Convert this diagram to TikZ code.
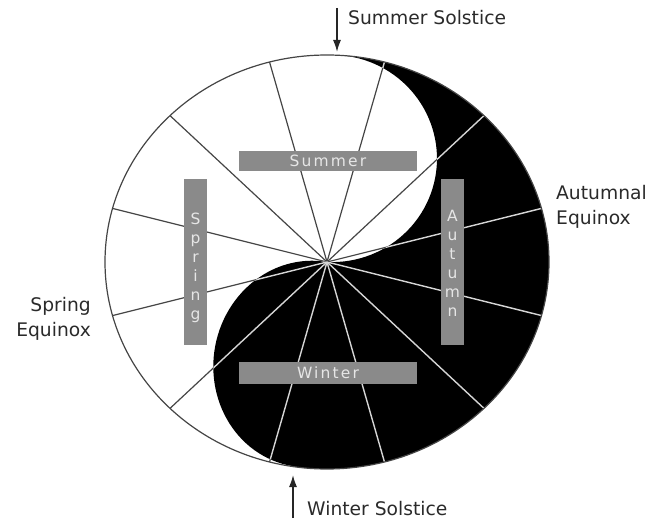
\documentclass[tikz,border=0pt]{standalone}
\usepackage{fontspec}
\setmainfont{DejaVu Sans}
\newfontfamily\barfont[LetterSpace=14]{DejaVu Sans}
\usetikzlibrary{arrows.meta}
\definecolor{bargray}{HTML}{8A8A8A}
\definecolor{bartext}{HTML}{E6E6E6}
\definecolor{labeltext}{HTML}{2A2A2A}
\definecolor{darkline}{HTML}{454545}
\definecolor{lightline}{HTML}{D5D5D5}
\tikzset{
  darkray/.style={draw=darkline, line width=1.2pt},
  lightray/.style={draw=lightline, line width=1.4pt},
  bar/.style={fill=bargray, draw=none, inner sep=0pt, text=bartext,
    font=\barfont\fontsize{15.5}{19}\selectfont},
  lbl/.style={inner sep=0pt, text=labeltext, font=\fontsize{18.7}{24.5}\selectfont},
  sarrow/.style={draw=black!85, line width=1.5pt, -{Latex[length=12pt,width=8pt]}}
}
\begin{document}
\begin{tikzpicture}[x=1pt,y=1pt]
\useasboundingbox (0,0) rectangle (659,-521);
\coordinate (O) at (327,-262);
\path (O) ++(87.4:222pt and 207pt) coordinate (T);
\foreach \a [count=\i] in {15,45,...,345}
  \path (O) ++(\a:222pt and 207pt) coordinate (e\i);
% dark rays on the white part
\foreach \i in {1,...,12} \draw[darkray] (O) -- (e\i);
% black half with light rays
\begin{scope}
  \clip (T) arc[start angle=87.4, end angle=-99.1, x radius=222pt, y radius=207pt]
    -- plot[domain=-90:90, samples=60, variable=\t]
      ({309.5 + (-96*cos(\t))*cos(-9.74) - (103.5*sin(\t))*sin(-9.74)},
       {-364 + (-96*cos(\t))*sin(-9.74) + (103.5*sin(\t))*cos(-9.74)})
    -- plot[domain=-90:90, samples=60, variable=\t]
      ({332 + (105*cos(\t))*cos(-2.77) - (103.6*sin(\t))*sin(-2.77)},
       {-158.5 + (105*cos(\t))*sin(-2.77) + (103.6*sin(\t))*cos(-2.77)})
    -- cycle;
  \fill[black] (0,0) rectangle (659,-521);
  \foreach \i in {1,...,12} \draw[lightray] (O) -- (e\i);
\end{scope}
\draw[draw=darkline, line width=1.2pt] (O) ellipse[x radius=222pt, y radius=207pt];
% season bars
\node[bar, minimum width=178pt, minimum height=20pt] (summer) at (328,-161) {Summer};
\node[bar, minimum width=178pt, minimum height=22pt] (winter) at (328,-373) {Winter};
\node[bar, minimum width=23pt, minimum height=166pt] (spring) at (195.5,-262) {};
\node[bar, align=center, fill=none] (springtxt) at (195.5,-268) {S\\p\\r\\i\\n\\g};
\node[bar, minimum width=23pt, minimum height=166pt] (autumn) at (452.5,-262) {};
\node[bar, align=center, fill=none] (autumntxt) at (452.5,-263) {A\\u\\t\\u\\m\\n};
% outer labels
\node[lbl, anchor=west] (ss) at (348,-18) {Summer Solstice};
\node[lbl, anchor=west] (ws) at (307,-509) {Winter Solstice};
\node[lbl, align=right, anchor=east] (se) at (91,-319) {Spring\\Equinox};
\node[lbl, align=left, anchor=west] (ae) at (556,-207) {Autumnal\\Equinox};
% solstice arrows
\coordinate (ssTail) at (337,-8);
\coordinate (ssTip) at (337,-52);
\coordinate (wsTail) at (293,-518);
\coordinate (wsTip) at (293,-475);
\draw[sarrow] (ssTail) -- (ssTip);
\draw[sarrow] (wsTail) -- (wsTip);
\end{tikzpicture}
\end{document}
